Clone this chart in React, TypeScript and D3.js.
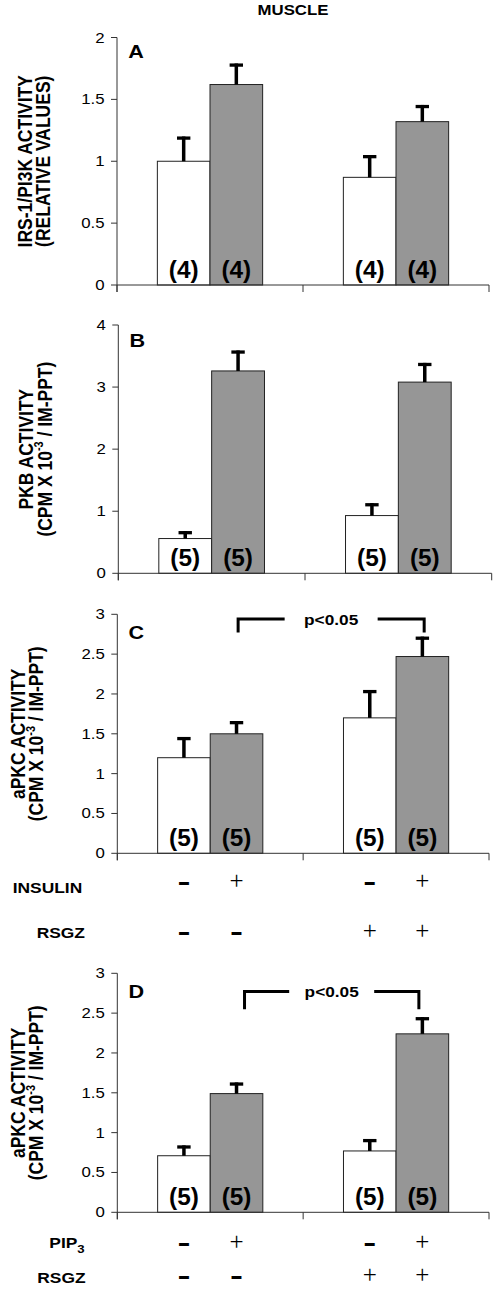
import React from "react";
import * as d3 from "d3";

// ---------- data ----------
const groups = ["RSGZ -", "RSGZ +"];
const seriesKeys = ["control", "stimulated"];
const seriesColors = ["#ffffff", "#969696"];

// Panel A: IRS-1/PI3K activity
const aControl = [1.0, 0.87];
const aStim = [1.62, 1.32];
const aControlSE = [0.2, 0.18];
const aStimSE = [0.17, 0.135];
const aCounts = [4, 4, 4, 4];
const aTicks = [0, 0.5, 1, 1.5, 2];

// Panel B: PKB activity
const bControl = [0.56, 0.93];
const bStim = [3.26, 3.08];
const bControlSE = [0.12, 0.2];
const bStimSE = [0.33, 0.31];
const bCounts = [5, 5, 5, 5];
const bTicks = [0, 1, 2, 3, 4];

// Panel C: aPKC activity (insulin)
const cControl = [1.2, 1.7];
const cStim = [1.5, 2.47];
const cControlSE = [0.26, 0.35];
const cStimSE = [0.16, 0.25];
const cCounts = [5, 5, 5, 5];
const cTicks = [0, 0.5, 1, 1.5, 2, 2.5, 3];

// Panel D: aPKC activity (PIP3)
const dControl = [0.71, 0.77];
const dStim = [1.49, 2.24];
const dControlSE = [0.13, 0.15];
const dStimSE = [0.14, 0.21];
const dCounts = [5, 5, 5, 5];
const dTicks = [0, 0.5, 1, 1.5, 2, 2.5, 3];

const insulinRow = ["-", "+", "-", "+"];
const rsgzRow = ["-", "-", "+", "+"];
const pip3Row = ["-", "+", "-", "+"];

const title = "MUSCLE";
const pLabel = "p<0.05";

// ---------- layout ----------
const W = 495;
const H = 1290;
const SX = 1.2; // horizontal glyph stretch of the figure text
const SANS = "'Liberation Sans', Arial, Helvetica, sans-serif";
const SERIF = "'Liberation Serif', 'Times New Roman', serif";

type Cfg = {
  top: number;
  bottom: number;
  x0: number;
  x1: number;
  letterY: number;
  titleX: [number, number];
};

const cfgA: Cfg = { top: 37.5, bottom: 285, x0: 117, x1: 489, letterY: 58.3, titleX: [31.5, 50] };
const cfgB: Cfg = { top: 325, bottom: 573.3, x0: 118.3, x1: 491.7, letterY: 346.7, titleX: [33, 51.5] };
const cfgC: Cfg = { top: 614.3, bottom: 853.3, x0: 117.3, x1: 489, letterY: 639.3, titleX: [25, 43] };
const cfgD: Cfg = { top: 973.3, bottom: 1212.3, x0: 117.3, x1: 489, letterY: 998.3, titleX: [25, 43] };

type Bracket = { top: number; bottom: number; dxL: number; dxR: number; gap: number };

function sText(
  x: number,
  y: number,
  content: React.ReactNode,
  opts: { size: number; weight?: string; anchor?: string; sx?: number; family?: string; key?: string }
) {
  const sx = opts.sx ?? SX;
  return (
    <text
      key={opts.key}
      transform={`translate(${x},${y}) scale(${sx},1)`}
      fontFamily={opts.family ?? SANS}
      fontSize={opts.size}
      fontWeight={opts.weight ?? "bold"}
      textAnchor={opts.anchor ?? "start"}
      fill="#000"
    >
      {content}
    </text>
  );
}

function makeX(cfg: Cfg) {
  const x = d3
    .scaleBand<string>()
    .domain(groups)
    .range([cfg.x0, cfg.x1])
    .paddingInner(0.434)
    .paddingOuter(0.217);
  const xs = d3.scaleBand<string>().domain(seriesKeys).range([0, x.bandwidth()]).padding(0);
  return { x, xs };
}

function Panel(props: {
  cfg: Cfg;
  control: number[];
  stim: number[];
  controlSE: number[];
  stimSE: number[];
  counts: number[];
  ticks: number[];
  letter: string;
  title1: string;
  title2: React.ReactNode;
  bracket?: Bracket;
}) {
  const { cfg, control, stim, controlSE, stimSE, counts, ticks, letter, title1, title2, bracket } = props;
  const yMax = ticks[ticks.length - 1];
  const y = d3.scaleLinear().domain([0, yMax]).range([cfg.bottom, cfg.top]);
  const { x, xs } = makeX(cfg);

  const bars: { g: string; s: string; v: number; se: number; n: number; i: number }[] = [];
  groups.forEach((g, gi) => {
    bars.push({ g, s: seriesKeys[0], v: control[gi], se: controlSE[gi], n: counts[gi * 2], i: 0 });
    bars.push({ g, s: seriesKeys[1], v: stim[gi], se: stimSE[gi], n: counts[gi * 2 + 1], i: 1 });
  });

  const step = x.step();
  const xTicks = [cfg.x0, cfg.x0 + step, cfg.x1];
  const yc = (cfg.top + cfg.bottom) / 2;

  let bracketEl: React.ReactNode = null;
  if (bracket) {
    const xl = (x(groups[0]) ?? 0) + (xs(seriesKeys[1]) ?? 0) + xs.bandwidth() / 2 + bracket.dxL;
    const xr = (x(groups[1]) ?? 0) + (xs(seriesKeys[1]) ?? 0) + xs.bandwidth() / 2 + bracket.dxR;
    const yt = y(bracket.top);
    const yb = y(bracket.bottom);
    const mid = (xl + xr) / 2;
    bracketEl = (
      <g>
        <path d={`M${xl},${yb} V${yt} H${mid - bracket.gap}`} fill="none" stroke="#000" strokeWidth={3} />
        <path d={`M${mid + bracket.gap},${yt} H${xr} V${yb}`} fill="none" stroke="#000" strokeWidth={3} />
        {sText(mid, yt + 5.5, pLabel, { size: 15, anchor: "middle", sx: 1.15 })}
      </g>
    );
  }

  return (
    <g>
      {bars.map((b, k) => {
        const bx = (x(b.g) ?? 0) + (xs(b.s) ?? 0);
        const bw = xs.bandwidth();
        return (
          <rect
            key={`bar${k}`}
            x={bx}
            y={y(b.v)}
            width={bw}
            height={cfg.bottom - y(b.v)}
            fill={seriesColors[b.i]}
            stroke="#222"
            strokeWidth={1}
          />
        );
      })}
      {bars.map((b, k) => {
        const cx = (x(b.g) ?? 0) + (xs(b.s) ?? 0) + xs.bandwidth() / 2;
        const ye = y(b.v + b.se);
        return (
          <g key={`err${k}`}>
            <line x1={cx} x2={cx} y1={ye} y2={y(b.v)} stroke="#000" strokeWidth={3.5} />
            <line x1={cx - 6.7} x2={cx + 6.7} y1={ye + 1.6} y2={ye + 1.6} stroke="#000" strokeWidth={3.3} />
          </g>
        );
      })}
      {bars.map((b, k) => {
        const cx = (x(b.g) ?? 0) + (xs(b.s) ?? 0) + xs.bandwidth() / 2;
        return sText(cx, cfg.bottom - 7, `(${b.n})`, { size: 23, anchor: "middle", sx: 1.06, key: `n${k}` });
      })}
      <line x1={cfg.x0} x2={cfg.x0} y1={cfg.top} y2={cfg.bottom + 7} stroke="#333" strokeWidth={1} />
      {ticks.map((t) => (
        <g key={`yt${t}`}>
          <line x1={cfg.x0 - 6} x2={cfg.x0} y1={y(t)} y2={y(t)} stroke="#333" strokeWidth={1} />
          {sText(cfg.x0 - 12.5, y(t) + 5, String(t), { size: 14, weight: "normal", anchor: "end" })}
        </g>
      ))}
      <line x1={cfg.x0} x2={cfg.x1} y1={cfg.bottom} y2={cfg.bottom} stroke="#333" strokeWidth={1} />
      {xTicks.map((t, i) => (
        <line key={`xt${i}`} x1={t} x2={t} y1={cfg.bottom} y2={cfg.bottom + 7} stroke="#333" strokeWidth={1} />
      ))}
      {sText(cfg.x0 + 11.3, cfg.letterY, letter, { size: 18 })}
      <text
        transform={`translate(${cfg.titleX[0]},${yc}) scale(${SX},1) rotate(-90)`}
        fontFamily={SANS}
        fontSize={17.5}
        fontWeight="bold"
        textAnchor="middle"
      >
        {title1}
      </text>
      <text
        transform={`translate(${cfg.titleX[1]},${yc}) scale(${SX},1) rotate(-90)`}
        fontFamily={SANS}
        fontSize={17.5}
        fontWeight="bold"
        textAnchor="middle"
      >
        {title2}
      </text>
      {bracketEl}
    </g>
  );
}

function cpmTitle() {
  return (
    <>
      <tspan>(CPM X 10</tspan>
      <tspan fontSize={11} dy={-7}>
        -3
      </tspan>
      <tspan dy={7}> / IM-PPT)</tspan>
    </>
  );
}

function symbolRow(row: string[], cy: number, cfg: Cfg, keyPrefix: string) {
  const { x, xs } = makeX(cfg);
  return row.map((s, i) => {
    const g = groups[Math.floor(i / 2)];
    const ser = seriesKeys[i % 2];
    const cx = (x(g) ?? 0) + (xs(ser) ?? 0) + xs.bandwidth() / 2;
    if (s === "+") {
      return (
        <text
          key={`${keyPrefix}${i}`}
          x={cx}
          y={cy + 6.3}
          fontFamily={SERIF}
          fontSize={25}
          textAnchor="middle"
          fill="#000"
        >
          +
        </text>
      );
    }
    return sText(cx, cy + 7, "-", { size: 26, anchor: "middle", sx: 1.5, key: `${keyPrefix}${i}` });
  });
}

export default function App() {
  return (
    <svg
      width={W}
      height={H}
      viewBox={`0 0 ${W} ${H}`}
      style={{ position: "absolute", left: 0, top: 0, background: "#fff" }}
    >
      <rect x={0} y={0} width={W} height={H} fill="#fff" />
      {sText(293, 15, title, { size: 14, anchor: "middle" })}

      <Panel
        cfg={cfgA}
        control={aControl}
        stim={aStim}
        controlSE={aControlSE}
        stimSE={aStimSE}
        counts={aCounts}
        ticks={aTicks}
        letter="A"
        title1="IRS-1/PI3K ACTIVITY"
        title2="(RELATIVE VALUES)"
      />
      <Panel
        cfg={cfgB}
        control={bControl}
        stim={bStim}
        controlSE={bControlSE}
        stimSE={bStimSE}
        counts={bCounts}
        ticks={bTicks}
        letter="B"
        title1="PKB ACTIVITY"
        title2={cpmTitle()}
      />
      <Panel
        cfg={cfgC}
        control={cControl}
        stim={cStim}
        controlSE={cControlSE}
        stimSE={cStimSE}
        counts={cCounts}
        ticks={cTicks}
        letter="C"
        title1="aPKC ACTIVITY"
        title2={cpmTitle()}
        bracket={{ top: 2.94, bottom: 2.77, dxL: 1.6, dxR: 1.8, gap: 46.5 }}
      />
      <Panel
        cfg={cfgD}
        control={dControl}
        stim={dStim}
        controlSE={dControlSE}
        stimSE={dStimSE}
        counts={dCounts}
        ticks={dTicks}
        letter="D"
        title1="aPKC ACTIVITY"
        title2={cpmTitle()}
        bracket={{ top: 2.77, bottom: 2.55, dxL: 8, dxR: -3.5, gap: 42.5 }}
      />

      {sText(12.7, 893, "INSULIN", { size: 14.5 })}
      {symbolRow(insulinRow, 883, cfgC, "ins")}
      {sText(36.7, 938, "RSGZ", { size: 14.5 })}
      {symbolRow(rsgzRow, 933, cfgC, "rc")}

      {sText(
        49.3,
        1248,
        <>
          <tspan>PIP</tspan>
          <tspan fontSize={11} dy={4.7}>
            3
          </tspan>
        </>,
        { size: 14.5 }
      )}
      {symbolRow(pip3Row, 1244, cfgD, "pip")}
      {sText(37.3, 1283.3, "RSGZ", { size: 14.5 })}
      {symbolRow(rsgzRow, 1277, cfgD, "rd")}
    </svg>
  );
}
